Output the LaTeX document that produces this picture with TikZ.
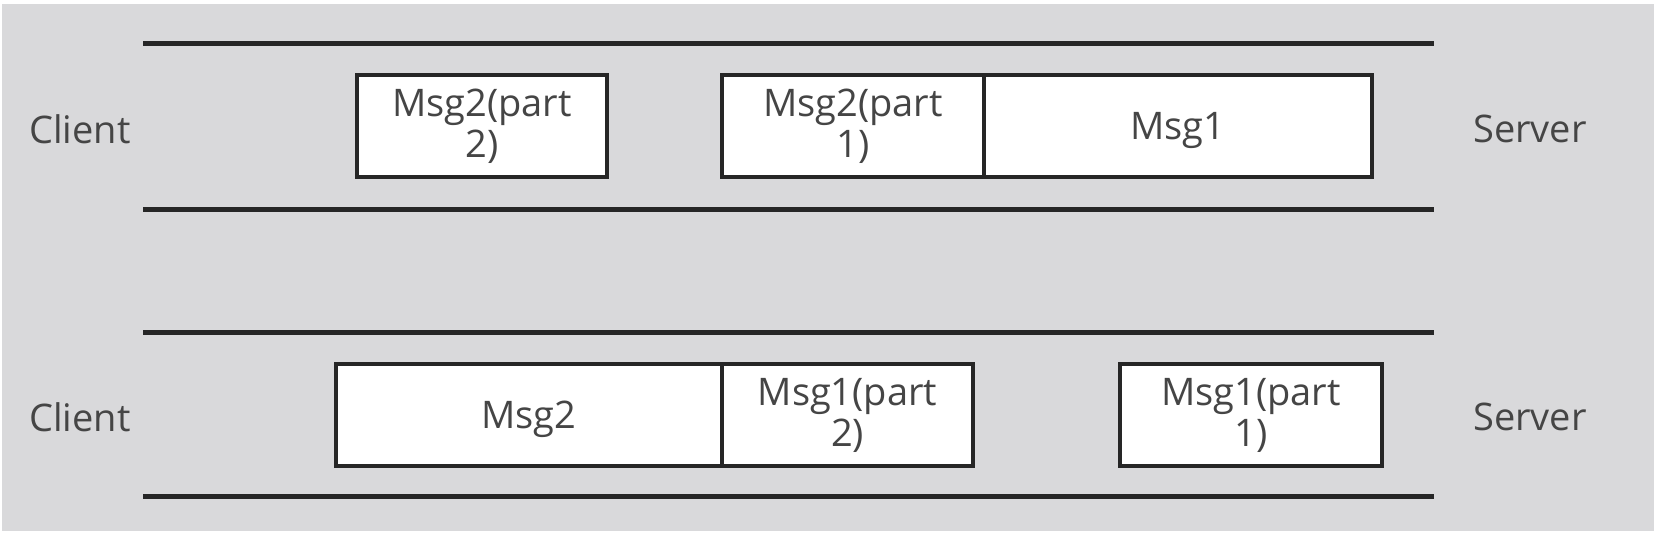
\documentclass[tikz,border=0pt]{standalone}
\usepackage{fontspec}
\setmainfont{Open Sans}
\definecolor{bgc}{HTML}{D9D9DB}
\definecolor{linec}{HTML}{262626}
\definecolor{txtc}{HTML}{454545}
\begin{document}
\begin{tikzpicture}[x=1pt,y=-1pt,
  lane/.style={line width=5pt, draw=linec},
  pkt/.style={draw=linec, line width=4pt, fill=white, inner sep=0pt,
    minimum height=102pt, align=center, text=txtc,
    font=\fontsize{38}{41}\selectfont},
  one/.style={text depth=0pt},
  side/.style={text=txtc, font=\fontsize{38}{42}\selectfont, inner sep=0pt}]
\useasboundingbox (0,0) rectangle (1656,534);
\fill[bgc] (2,4) rectangle (1654,531);
% lane 1
\coordinate (t1l) at (143,44);  \coordinate (t1r) at (1434,44);
\coordinate (b1l) at (143,210); \coordinate (b1r) at (1434,210);
\draw[lane] (t1l) -- (t1r);
\draw[lane] (b1l) -- (b1r);
\node[side] (c1) at (80,129) {Client};
\node[side] (s1) at (1530,129) {Server};
\node[pkt, minimum width=250pt] (a1) at (482,126) {Msg2(part\\2)};
\node[pkt, minimum width=262pt] (a2) at (853,126) {Msg2(part\\1)};
\node[pkt, one, minimum width=388pt] (a3) at (1178,126) {Msg1};
% lane 2
\coordinate (t2l) at (143,333);  \coordinate (t2r) at (1434,333);
\coordinate (b2l) at (143,496); \coordinate (b2r) at (1434,496);
\draw[lane] (t2l) -- (t2r);
\draw[lane] (b2l) -- (b2r);
\node[side] (c2) at (80,417) {Client};
\node[side] (s2) at (1530,417) {Server};
\node[pkt, one, minimum width=386pt] (d1) at (529,415) {Msg2};
\node[pkt, minimum width=251pt] (d2) at (847.5,415) {Msg1(part\\2)};
\node[pkt, minimum width=262pt] (d3) at (1251,415) {Msg1(part\\1)};
\end{tikzpicture}
\end{document}
